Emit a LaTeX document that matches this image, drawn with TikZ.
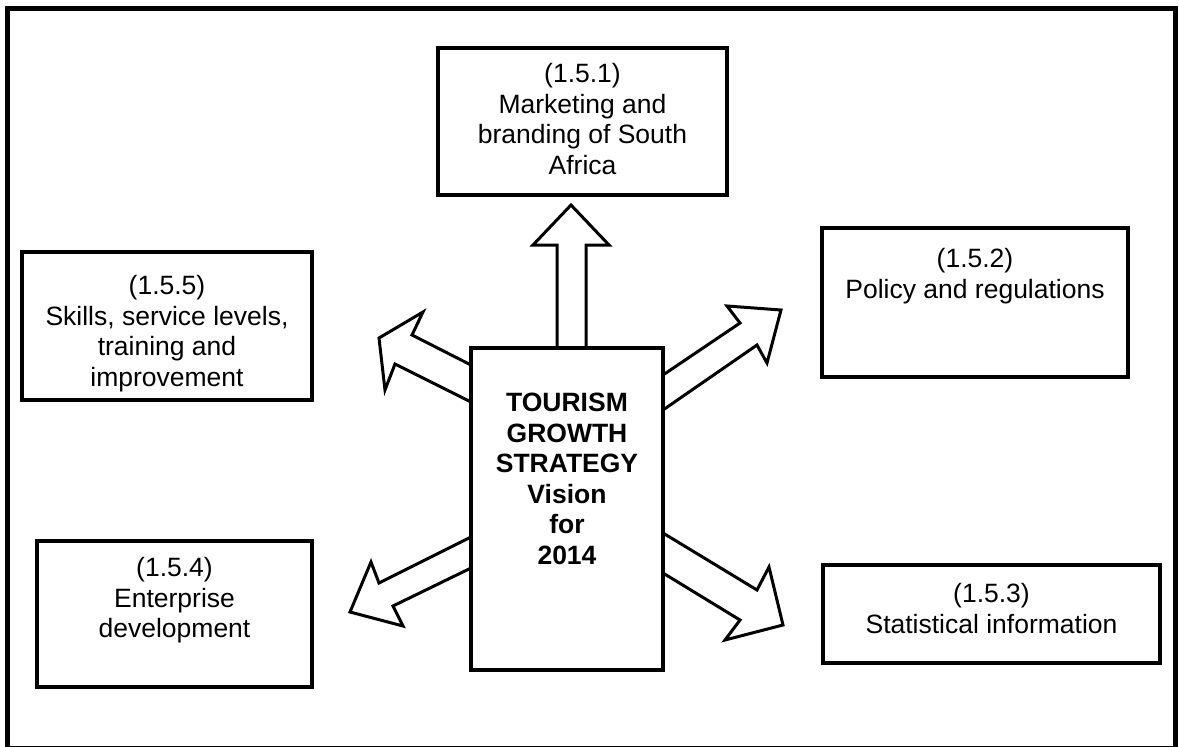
\documentclass[tikz,border=0pt]{standalone}
\usepackage{fontspec}
\setmainfont{Liberation Sans}
\usetikzlibrary{positioning}

\begin{document}
\begin{tikzpicture}[x=1pt,y=-1pt,
		box/.style={draw,line width=3.5pt,fill=white,inner sep=0pt},
		txt/.style={align=center,inner sep=0pt,font=\fontsize{26.5}{30.5}\selectfont},
		blockarrow/.style={draw,line width=3pt,fill=white,line join=miter,miter limit=10}]
	\useasboundingbox (0,0) rectangle (1179,747);
	\draw[line width=5pt] (7.5,8.5) rectangle (1175.5,748);

	% outer boxes
	\node[box,minimum width=289pt,minimum height=147pt]	(market)	at (582.5,121.5)	{};
	\node[box,minimum width=306pt,minimum height=149pt]	(policy)	at (975,302.5)	{};
	\node[box,minimum width=337pt,minimum height=98pt]	(stats)	at (991.5,614)	{};
	\node[box,minimum width=275pt,minimum height=146pt]	(enterprise)	at (174.5,614)	{};
	\node[box,minimum width=290pt,minimum height=148pt]	(skills)	at (167,326)	{};

	\node[txt,below=17pt of market.north]	(markettxt)	{(1.5.1)\\Marketing and\\branding of South\\Africa};
	\node[txt,below=22pt of policy.north]	(policytxt)	{(1.5.2)\\Policy and regulations};
	\node[txt,below=20pt of stats.north]	(statstxt)	{(1.5.3)\\Statistical information};
	\node[txt,below=18pt of enterprise.north]	(enterprisetxt)	{(1.5.4)\\Enterprise\\development};
	\node[txt,below=25pt of skills.north]	(skillstxt)	{(1.5.5)\\Skills, service levels,\\training and\\improvement};

	% block arrows out of the centre box
	\draw[blockarrow] (557,348) -- (557,245) -- (533,245) -- (571,205) -- (609,245) -- (586,245) -- (586,348);
	\draw[blockarrow] (663,375) -- (740,323) -- (727,306) -- (781,310) -- (767,363) -- (757,345) -- (663,410);
	\draw[blockarrow] (663,533) -- (757,590) -- (769,567) -- (783,625) -- (725,640) -- (740,620) -- (663,573);
	\draw[blockarrow] (471,537) -- (379,583) -- (371,562) -- (350,612) -- (403,626) -- (393,606) -- (471,568);
	\draw[blockarrow] (471,365) -- (412,335) -- (423,312) -- (379,338) -- (385,390) -- (395,364) -- (471,402);

	\node[box,minimum width=192pt,minimum height=322pt]	(tourism)	at (567,509)	{};
	\node[txt,font=\fontsize{26.5}{30.5}\selectfont\bfseries,below=47pt of tourism.north]	(tourismtxt)
		{TOURISM\\GROWTH\\STRATEGY\\Vision\\for\\2014};
\end{tikzpicture}
\end{document}
